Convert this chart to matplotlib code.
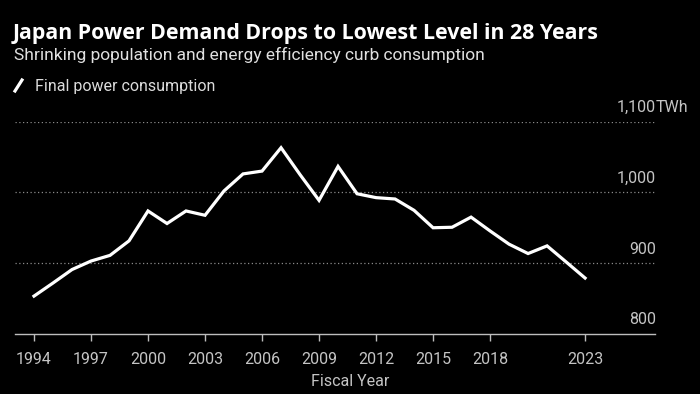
import matplotlib
matplotlib.use("Agg")
import matplotlib.pyplot as plt
from matplotlib.lines import Line2D

years = list(range(1994, 2024))
consumption = [853.5, 872, 891, 903, 911, 931.5, 973.7, 956, 973.7, 967.6,
               1002, 1026, 1030, 1063, 1025, 988.7, 1036.6, 998, 992.5, 990.6,
               974.6, 950, 950.7, 965, 945.5, 926.8, 913.6, 924.4, 901.8, 879]
xticks = [1994, 1997, 2000, 2003, 2006, 2009, 2012, 2015, 2018, 2023]
yticks = [800, 900, 1000, 1100]
ytick_labels = ["800", "900", "1,000", "1,100"]

title = "Japan Power Demand Drops to Lowest Level in 28 Years"
subtitle = "Shrinking population and energy efficiency curb consumption"
legend_label = "Final power consumption"

W, H = 700, 394
fig = plt.figure(figsize=(W / 100, H / 100), dpi=100, facecolor="black")

narrow = "Roboto"
bold_font = "Open Sans"
lab_col = "#c4c4c4"

def px(x, y):
    return x / W, 1 - y / H

ax = fig.add_axes([15 / W, (H - 334) / H, 640 / W, (334 - 121.5) / H])
ax.set_facecolor("black")
ax.plot(years, consumption, color="white", lw=2.3, solid_joinstyle="miter", clip_on=False, zorder=3)
ax.set_xlim(1993, 2026.68)
ax.set_ylim(800, 1100)
for v in yticks[1:]:
    ax.axhline(v, color="#8a8a8a", lw=0.9, ls=(0, (1, 2)), zorder=1)
for s in ["top", "right", "left"]:
    ax.spines[s].set_visible(False)
ax.spines["bottom"].set_color("#bdbdbd")
ax.spines["bottom"].set_linewidth(1.0)
ax.set_yticks([])
ax.set_xticks(xticks)
ax.set_xticklabels([str(x) for x in xticks], fontfamily=narrow, fontsize=11.5, color=lab_col)
ax.tick_params(axis="x", colors="#bdbdbd", length=5, width=1, pad=8, labelcolor=lab_col)

# y labels (right side, above gridlines)
for v, lab in zip(yticks, ytick_labels):
    ax.annotate(lab, xy=(1, v), xycoords=("axes fraction", "data"), xytext=(1, 14),
                textcoords="offset pixels", ha="right", va="center",
                fontfamily=narrow, fontsize=11.5, color=lab_col)
ax.annotate("TWh", xy=(1, yticks[-1]), xycoords=("axes fraction", "data"), xytext=(1, 14),
            textcoords="offset pixels", ha="left", va="center",
            fontfamily=narrow, fontsize=11.5, color=lab_col)

fig.text(*px(350, 381), "Fiscal Year", ha="center", va="center",
         fontfamily=narrow, fontsize=11.5, color=lab_col)

t1 = fig.text(*px(13, 33), title, ha="left", va="center", fontfamily=bold_font,
              fontweight="bold", fontsize=14, color="white")
t2 = fig.text(*px(14, 55), subtitle, ha="left", va="center", fontfamily=narrow,
              fontsize=12, color="#e0e0e0")
t3 = fig.text(*px(35, 86), legend_label, ha="left", va="center", fontfamily=narrow,
              fontsize=11, color="#dcdcdc")
fig.add_artist(Line2D([15 / W, 22 / W], [1 - 91 / H, 1 - 80 / H], color="white", lw=2.3,
                      transform=fig.transFigure))

# fit header text widths to reference
fig.canvas.draw()
r = fig.canvas.get_renderer()
for t, target in [(t1, 590), (t2, 468), (t3, 178)]:
    w = t.get_window_extent(r).width
    t.set_fontsize(t.get_fontsize() * target / w)

fig.savefig("out.png", dpi=100, facecolor="black")
